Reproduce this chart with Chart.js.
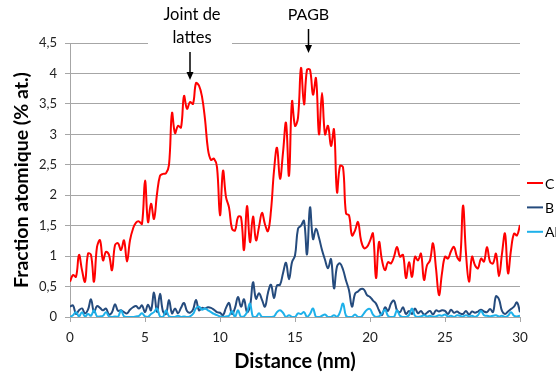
<!DOCTYPE html>
<html><head><meta charset="utf-8">
<script src="https://cdn.jsdelivr.net/npm/chart.js@4"></script>
<style>html,body{margin:0;padding:0;background:#fff}#wrap{width:556px;height:380px}</style>
</head><body><div id="wrap"><canvas id="c" width="556" height="380"></canvas></div>
<script>
const distance = [0,0.2,0.4,0.6,0.8,1,1.2,1.4,1.6,1.8,2,2.2,2.4,2.6,2.8,3,3.2,3.4,3.6,3.8,4,4.2,4.4,4.6,4.8,5,5.2,5.4,5.6,5.8,6,6.2,6.4,6.6,6.8,7,7.2,7.4,7.6,7.8,8,8.2,8.4,8.6,8.8,9,9.2,9.4,9.6,9.8,10,10.2,10.4,10.6,10.8,11,11.2,11.4,11.6,11.8,12,12.2,12.4,12.6,12.8,13,13.2,13.4,13.6,13.8,14,14.2,14.4,14.6,14.8,15,15.2,15.4,15.6,15.8,16,16.2,16.4,16.6,16.8,17,17.2,17.4,17.6,17.8,18,18.2,18.4,18.6,18.8,19,19.2,19.4,19.6,19.8,20,20.2,20.4,20.6,20.8,21,21.2,21.4,21.6,21.8,22,22.2,22.4,22.6,22.8,23,23.2,23.4,23.6,23.8,24,24.2,24.4,24.6,24.8,25,25.2,25.4,25.6,25.8,26,26.2,26.4,26.6,26.8,27,27.2,27.4,27.6,27.8,28,28.2,28.4,28.6,28.8,29,29.2,29.4,29.6,29.8,30];
const seriesC = [0.58,0.69,0.66,1.02,0.77,0.58,1.04,1.02,0.58,1.15,
1.26,0.93,1.07,1.02,0.77,1.18,1.21,1.10,1.26,0.91,
1.26,1.45,1.55,1.57,1.53,2.24,1.56,1.86,1.61,2.02,
2.32,2.35,2.36,2.50,3.35,3.02,3.14,3.11,3.63,3.42,
3.53,3.50,3.84,3.80,3.62,3.25,2.75,2.58,2.60,2.46,
1.67,2.40,1.97,1.80,1.45,1.42,1.64,1.64,1.10,1.82,
1.23,1.65,1.26,1.48,1.71,1.52,1.41,1.75,2.40,2.78,
2.27,2.70,3.19,2.32,3.54,3.14,3.27,4.09,3.49,4.06,
4.06,3.65,3.92,3.00,3.68,3.00,3.14,2.81,3.08,2.05,
2.48,2.46,1.70,1.67,1.34,1.42,1.56,1.26,1.13,1.15,
1.25,1.37,0.64,1.23,0.93,0.77,0.90,0.88,0.99,1.15,
0.99,1.02,0.64,0.90,0.66,0.99,0.93,1.04,0.61,0.85,
0.93,1.21,0.80,0.36,0.72,0.99,0.96,1.08,1.15,0.99,
0.93,1.83,1.04,0.58,0.99,0.85,0.80,0.96,0.91,1.15,
0.91,0.88,1.04,0.67,1.04,1.37,0.72,1.10,1.37,1.34,
1.51];
const seriesB = [0.17,0.19,0.05,0.11,0.14,0.06,0.12,0.29,0.08,0.18,
0.15,0.11,0.14,0.04,0.08,0.21,0.10,0.11,0.08,0.06,
0.12,0.16,0.18,0.14,0.19,0.08,0.20,0.11,0.40,0.08,
0.38,0.09,0.05,0.28,0.06,0.14,0.06,0.15,0.23,0.10,
0.07,0.12,0.28,0.11,0.15,0.14,0.16,0.15,0.12,0.08,
0.07,0.03,0.15,0.23,0.05,0.15,0.33,0.17,0.29,0.08,
0.17,0.57,0.30,0.39,0.28,0.17,0.40,0.53,0.31,0.52,
0.53,0.72,0.89,0.62,0.90,1.01,1.45,1.50,1.58,1.03,
1.80,1.28,1.45,1.30,1.10,0.94,0.80,0.95,0.47,0.83,
0.88,0.78,0.60,0.44,0.17,0.38,0.42,0.46,0.45,0.36,
0.33,0.27,0.22,0.11,0.03,0.16,0.10,0.22,0.27,0.11,
0.08,0.16,0.05,0.10,0.05,0.14,0.06,0.10,0.04,0.07,
0.10,0.04,0.11,0.09,0.11,0.10,0.05,0.12,0.07,0.09,
0.06,0.05,0.10,0.04,0.09,0.07,0.09,0.12,0.09,0.08,
0.13,0.08,0.34,0.29,0.10,0.05,0.09,0.13,0.17,0.24,
0.08];
const seriesAl = [0.00,0.03,0.08,0.01,0.08,0.01,0.05,0.02,0.11,0.01,
0.01,0.02,0.08,0.01,0.00,0.01,0.00,0.11,0.01,0.00,
0.00,0.00,0.01,0.02,0.06,0.01,0.00,0.05,0.08,0.14,
0.01,0.00,0.11,0.01,0.00,0.00,0.02,0.00,0.01,0.00,
0.01,0.05,0.14,0.17,0.12,0.14,0.11,0.08,0.05,0.03,
0.01,0.00,0.01,0.02,0.10,0.00,0.11,0.00,0.01,0.08,
0.22,0.00,0.00,0.06,0.00,0.00,0.00,0.00,0.01,0.08,
0.11,0.07,0.00,0.03,0.00,0.00,0.06,0.05,0.08,0.00,
0.05,0.14,0.00,0.00,0.02,0.04,0.00,0.00,0.03,0.00,
0.08,0.22,0.02,0.00,0.00,0.04,0.00,0.00,0.06,0.12,
0.13,0.04,0.00,0.01,0.06,0.12,0.02,0.00,0.00,0.11,
0.02,0.00,0.00,0.03,0.14,0.02,0.00,0.01,0.03,0.01,
0.02,0.00,0.01,0.03,0.02,0.04,0.01,0.02,0.00,0.03,
0.02,0.01,0.03,0.01,0.02,0.00,0.03,0.10,0.03,0.02,
0.01,0.02,0.03,0.01,0.02,0.00,0.02,0.08,0.02,0.01,
0.02];
const seriesNames = ['C','B','Al'];
const seriesColors = ['#ff0000','#254b7d','#1eb1ea'];
const xTicks = [0,5,10,15,20,25,30];
const yTicks = [0,0.5,1,1.5,2,2.5,3,3.5,4,4.5];
const notes = [{lines:['Joint de','lattes'], at:8.0}, {lines:['PAGB'], at:15.9}];

const allSeries = [seriesC, seriesB, seriesAl];
const datasets = allSeries.map((s, i) => ({
  label: seriesNames[i],
  data: distance.map((d, k) => ({x: d, y: s[k]})),
  borderColor: seriesColors[i],
  backgroundColor: seriesColors[i],
  borderWidth: 2,
  pointRadius: 0,
  tension: 0.4,
  fill: false
}));
datasets.reverse();

const notesPlugin = {
  id: 'notes',
  afterDraw(chart) {
    const ctx = chart.ctx, xs = chart.scales.x;
    ctx.save();
    const p1 = xs.getPixelForValue(notes[0].at);
    ctx.fillStyle = '#fff';
    ctx.fillRect(p1 - 42, 0, 84, 48);
    ctx.fillStyle = '#000';
    ctx.font = '16.5px Lato';
    ctx.textAlign = 'center';
    ctx.textBaseline = 'middle';
    ctx.fillText(notes[0].lines[0], p1 + 2, 15);
    ctx.fillText(notes[0].lines[1], p1 + 2, 38);
    const p2 = xs.getPixelForValue(notes[1].at);
    ctx.font = '16px Lato';
    ctx.fillText(notes[1].lines[0], p2, 15);
    const arrow = (x, y0, y1) => {
      ctx.strokeStyle = '#000'; ctx.lineWidth = 1.5;
      ctx.beginPath(); ctx.moveTo(x, y0); ctx.lineTo(x, y1 - 6); ctx.stroke();
      ctx.beginPath(); ctx.moveTo(x, y1); ctx.lineTo(x - 3.5, y1 - 8); ctx.lineTo(x + 3.5, y1 - 8); ctx.closePath(); ctx.fill();
    };
    arrow(p1, 52, 80);
    arrow(p2, 29, 53);
    const ca = chart.chartArea;
    ctx.font = '14px Lato';
    ctx.textAlign = 'left';
    seriesNames.forEach((n, i) => {
      const y = 183 + i * 24.4;
      ctx.strokeStyle = seriesColors[i]; ctx.lineWidth = 2;
      ctx.beginPath(); ctx.moveTo(ca.right + 7, y); ctx.lineTo(ca.right + 23, y); ctx.stroke();
      ctx.fillStyle = '#000';
      ctx.fillText(n, ca.right + 25, y + 1);
    });
    ctx.restore();
  }
};

new Chart(document.getElementById('c'), {
  type: 'line',
  data: { datasets },
  options: {
    responsive: false,
    animation: false,
    devicePixelRatio: 1,
    layout: { padding: { top: 43, right: 36, left: 0, bottom: 0 } },
    plugins: { legend: { display: false }, tooltip: { enabled: false } },
    scales: {
      x: {
        type: 'linear', min: 0, max: 30,
        afterFit: s => { s.height = 63; },
        afterBuildTicks: s => { s.ticks = xTicks.map(v => ({value: v})); },
        grid: { drawOnChartArea: false, drawTicks: true, tickLength: 5, color: '#a6a6a6' },
        border: { display: true, color: '#a6a6a6' },
        ticks: { padding: 8, color: '#222', font: { size: 13.5, family: 'Lato' }, maxRotation: 0 },
        title: { display: true, text: 'Distance (nm)', color: '#000', font: { size: 20, weight: 'bold', family: 'Lato' }, padding: { top: 0, bottom: 6 } }
      },
      y: {
        min: 0, max: 4.5,
        afterFit: s => { s.width = 70; },
        afterBuildTicks: s => { s.ticks = yTicks.map(v => ({value: v})); },
        grid: { color: '#a6a6a6', tickLength: 5 },
        border: { display: true, color: '#a6a6a6' },
        ticks: { padding: 8, color: '#222', font: { size: 13, family: 'Lato' }, callback: v => String(v).replace('.', ',') },
        title: { display: true, text: 'Fraction atomique (% at.)', color: '#000', font: { size: 19.5, weight: 'bold', family: 'Lato' }, padding: { top: 10, bottom: 0 } }
      }
    }
  },
  plugins: [notesPlugin]
});
</script>
</body></html>
